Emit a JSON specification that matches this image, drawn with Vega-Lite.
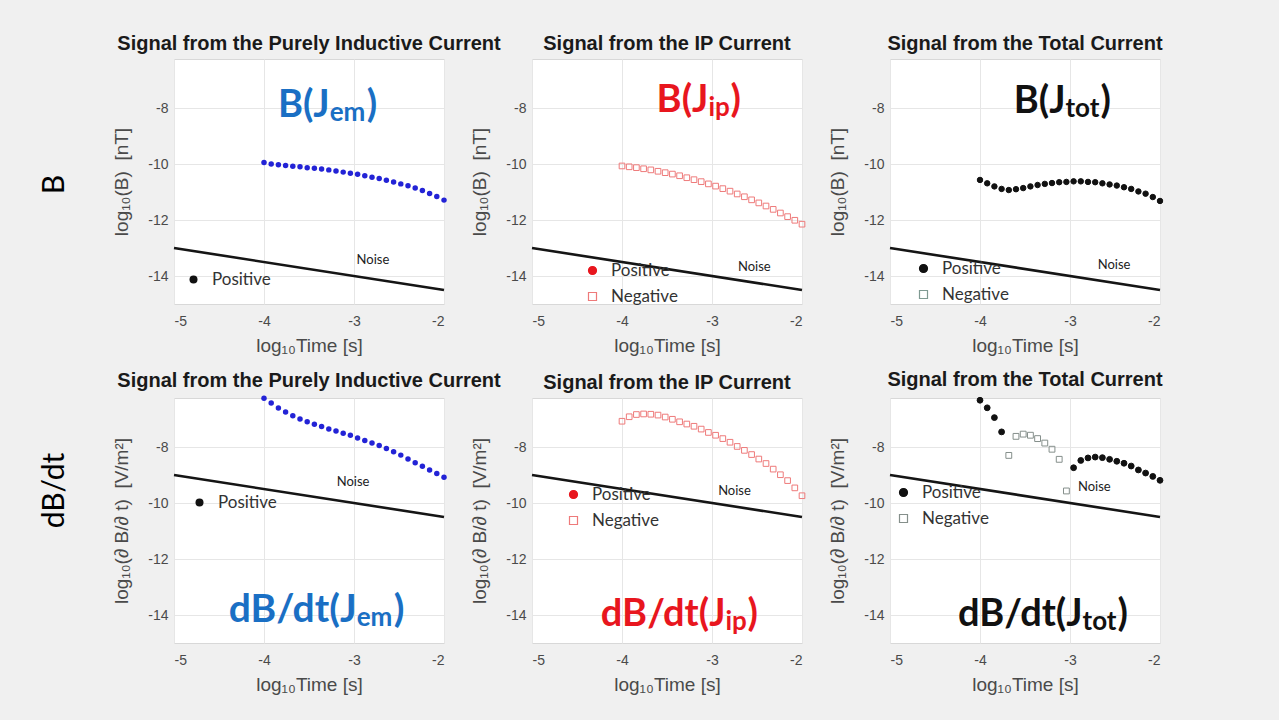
{
"$schema": "https://vega.github.io/schema/vega-lite/v6.json",
"background": "#f0f0f0",
"padding": {"left": 24, "top": 33, "right": 113, "bottom": 32},
"config": {
  "view": {"fill": "white", "stroke": "#d8d8d8"},
  "axis": {"labelFont": "Liberation Sans", "labelFontSize": 14, "labelColor": "#4a4a4a", "titleFont": "Liberation Sans", "titleFontSize": 19, "titleFontWeight": "normal", "titleColor": "#4a4a4a", "gridColor": "#e6e6e6", "domain": false, "ticks": false},
  "axisX": {"labelPadding": 10, "titlePadding": 8},
  "axisY": {"labelPadding": 6, "titlePadding": 16},
  "title": {"font": "Liberation Sans", "fontSize": 20, "fontWeight": "bold", "color": "#1a1a1a", "offset": 5, "anchor": "middle"},
  "legend": {"labelFont": "Lato", "labelFontSize": 17, "labelColor": "#333333", "symbolSize": 64, "rowPadding": 8, "labelOffset": 10, "symbolStrokeWidth": 1.2}
},
"datasets": {
  "noise_b": [{"t": -5, "v": -13}, {"t": -2, "v": -14.5}],
  "noise_d": [{"t": -5, "v": -9}, {"t": -2, "v": -10.5}],
  "bem": [
    {"t": -4, "v": -9.95, "sign": "Positive"}, {"t": -3.92, "v": -10.0, "sign": "Positive"}, {"t": -3.84, "v": -10.03, "sign": "Positive"}, {"t": -3.76, "v": -10.05, "sign": "Positive"}, {"t": -3.68, "v": -10.08, "sign": "Positive"}, {"t": -3.6, "v": -10.1, "sign": "Positive"}, {"t": -3.52, "v": -10.13, "sign": "Positive"}, {"t": -3.44, "v": -10.15, "sign": "Positive"}, {"t": -3.36, "v": -10.18, "sign": "Positive"}, {"t": -3.28, "v": -10.21, "sign": "Positive"}, {"t": -3.2, "v": -10.25, "sign": "Positive"}, {"t": -3.12, "v": -10.29, "sign": "Positive"}, {"t": -3.04, "v": -10.33, "sign": "Positive"}, {"t": -2.96, "v": -10.37, "sign": "Positive"}, {"t": -2.88, "v": -10.42, "sign": "Positive"}, {"t": -2.8, "v": -10.47, "sign": "Positive"}, {"t": -2.72, "v": -10.52, "sign": "Positive"}, {"t": -2.64, "v": -10.58, "sign": "Positive"}, {"t": -2.56, "v": -10.64, "sign": "Positive"}, {"t": -2.48, "v": -10.71, "sign": "Positive"}, {"t": -2.4, "v": -10.78, "sign": "Positive"}, {"t": -2.32, "v": -10.86, "sign": "Positive"}, {"t": -2.24, "v": -10.95, "sign": "Positive"}, {"t": -2.16, "v": -11.05, "sign": "Positive"}, {"t": -2.08, "v": -11.16, "sign": "Positive"}, {"t": -2.0, "v": -11.29, "sign": "Positive"}
  ],
  "bip": [
    {"t": -4, "v": -10.07, "sign": "Negative"}, {"t": -3.92, "v": -10.1, "sign": "Negative"}, {"t": -3.84, "v": -10.13, "sign": "Negative"}, {"t": -3.76, "v": -10.17, "sign": "Negative"}, {"t": -3.68, "v": -10.21, "sign": "Negative"}, {"t": -3.6, "v": -10.26, "sign": "Negative"}, {"t": -3.52, "v": -10.31, "sign": "Negative"}, {"t": -3.44, "v": -10.36, "sign": "Negative"}, {"t": -3.36, "v": -10.42, "sign": "Negative"}, {"t": -3.28, "v": -10.49, "sign": "Negative"}, {"t": -3.2, "v": -10.56, "sign": "Negative"}, {"t": -3.12, "v": -10.63, "sign": "Negative"}, {"t": -3.04, "v": -10.71, "sign": "Negative"}, {"t": -2.96, "v": -10.79, "sign": "Negative"}, {"t": -2.88, "v": -10.88, "sign": "Negative"}, {"t": -2.8, "v": -10.97, "sign": "Negative"}, {"t": -2.72, "v": -11.07, "sign": "Negative"}, {"t": -2.64, "v": -11.17, "sign": "Negative"}, {"t": -2.56, "v": -11.28, "sign": "Negative"}, {"t": -2.48, "v": -11.39, "sign": "Negative"}, {"t": -2.4, "v": -11.5, "sign": "Negative"}, {"t": -2.32, "v": -11.62, "sign": "Negative"}, {"t": -2.24, "v": -11.75, "sign": "Negative"}, {"t": -2.16, "v": -11.88, "sign": "Negative"}, {"t": -2.08, "v": -12.01, "sign": "Negative"}, {"t": -2.0, "v": -12.15, "sign": "Negative"}
  ],
  "btot": [
    {"t": -4, "v": -10.57, "sign": "Positive"}, {"t": -3.92, "v": -10.69, "sign": "Positive"}, {"t": -3.84, "v": -10.8, "sign": "Positive"}, {"t": -3.76, "v": -10.89, "sign": "Positive"}, {"t": -3.68, "v": -10.93, "sign": "Positive"}, {"t": -3.6, "v": -10.9, "sign": "Positive"}, {"t": -3.52, "v": -10.86, "sign": "Positive"}, {"t": -3.44, "v": -10.8, "sign": "Positive"}, {"t": -3.36, "v": -10.75, "sign": "Positive"}, {"t": -3.28, "v": -10.71, "sign": "Positive"}, {"t": -3.2, "v": -10.68, "sign": "Positive"}, {"t": -3.12, "v": -10.65, "sign": "Positive"}, {"t": -3.04, "v": -10.64, "sign": "Positive"}, {"t": -2.96, "v": -10.62, "sign": "Positive"}, {"t": -2.88, "v": -10.62, "sign": "Positive"}, {"t": -2.8, "v": -10.64, "sign": "Positive"}, {"t": -2.72, "v": -10.65, "sign": "Positive"}, {"t": -2.64, "v": -10.69, "sign": "Positive"}, {"t": -2.56, "v": -10.73, "sign": "Positive"}, {"t": -2.48, "v": -10.77, "sign": "Positive"}, {"t": -2.4, "v": -10.83, "sign": "Positive"}, {"t": -2.32, "v": -10.89, "sign": "Positive"}, {"t": -2.24, "v": -10.98, "sign": "Positive"}, {"t": -2.16, "v": -11.06, "sign": "Positive"}, {"t": -2.08, "v": -11.18, "sign": "Positive"}, {"t": -2.0, "v": -11.32, "sign": "Positive"}
  ],
  "dem": [
    {"t": -4, "v": -6.26, "sign": "Positive"}, {"t": -3.92, "v": -6.43, "sign": "Positive"}, {"t": -3.84, "v": -6.61, "sign": "Positive"}, {"t": -3.76, "v": -6.75, "sign": "Positive"}, {"t": -3.68, "v": -6.88, "sign": "Positive"}, {"t": -3.6, "v": -7.0, "sign": "Positive"}, {"t": -3.52, "v": -7.1, "sign": "Positive"}, {"t": -3.44, "v": -7.19, "sign": "Positive"}, {"t": -3.36, "v": -7.27, "sign": "Positive"}, {"t": -3.28, "v": -7.36, "sign": "Positive"}, {"t": -3.2, "v": -7.43, "sign": "Positive"}, {"t": -3.12, "v": -7.51, "sign": "Positive"}, {"t": -3.04, "v": -7.58, "sign": "Positive"}, {"t": -2.96, "v": -7.68, "sign": "Positive"}, {"t": -2.88, "v": -7.77, "sign": "Positive"}, {"t": -2.8, "v": -7.86, "sign": "Positive"}, {"t": -2.72, "v": -7.95, "sign": "Positive"}, {"t": -2.64, "v": -8.05, "sign": "Positive"}, {"t": -2.56, "v": -8.17, "sign": "Positive"}, {"t": -2.48, "v": -8.29, "sign": "Positive"}, {"t": -2.4, "v": -8.43, "sign": "Positive"}, {"t": -2.32, "v": -8.56, "sign": "Positive"}, {"t": -2.24, "v": -8.69, "sign": "Positive"}, {"t": -2.16, "v": -8.82, "sign": "Positive"}, {"t": -2.08, "v": -8.95, "sign": "Positive"}, {"t": -2.0, "v": -9.08, "sign": "Positive"}
  ],
  "dip": [
    {"t": -4, "v": -7.08, "sign": "Negative"}, {"t": -3.92, "v": -6.92, "sign": "Negative"}, {"t": -3.84, "v": -6.84, "sign": "Negative"}, {"t": -3.76, "v": -6.82, "sign": "Negative"}, {"t": -3.68, "v": -6.83, "sign": "Negative"}, {"t": -3.6, "v": -6.86, "sign": "Negative"}, {"t": -3.52, "v": -6.93, "sign": "Negative"}, {"t": -3.44, "v": -7.01, "sign": "Negative"}, {"t": -3.36, "v": -7.1, "sign": "Negative"}, {"t": -3.28, "v": -7.18, "sign": "Negative"}, {"t": -3.2, "v": -7.26, "sign": "Negative"}, {"t": -3.12, "v": -7.36, "sign": "Negative"}, {"t": -3.04, "v": -7.48, "sign": "Negative"}, {"t": -2.96, "v": -7.58, "sign": "Negative"}, {"t": -2.88, "v": -7.7, "sign": "Negative"}, {"t": -2.8, "v": -7.83, "sign": "Negative"}, {"t": -2.72, "v": -7.98, "sign": "Negative"}, {"t": -2.64, "v": -8.12, "sign": "Negative"}, {"t": -2.56, "v": -8.27, "sign": "Negative"}, {"t": -2.48, "v": -8.43, "sign": "Negative"}, {"t": -2.4, "v": -8.59, "sign": "Negative"}, {"t": -2.32, "v": -8.79, "sign": "Negative"}, {"t": -2.24, "v": -8.99, "sign": "Negative"}, {"t": -2.16, "v": -9.2, "sign": "Negative"}, {"t": -2.08, "v": -9.46, "sign": "Negative"}, {"t": -2.0, "v": -9.74, "sign": "Negative"}
  ],
  "dtot": [
    {"t": -4, "v": -6.33, "sign": "Positive"}, {"t": -3.92, "v": -6.6, "sign": "Positive"}, {"t": -3.84, "v": -6.95, "sign": "Positive"}, {"t": -3.76, "v": -7.46, "sign": "Positive"}, {"t": -3.68, "v": -8.3, "sign": "Negative"}, {"t": -3.6, "v": -7.62, "sign": "Negative"}, {"t": -3.52, "v": -7.54, "sign": "Negative"}, {"t": -3.44, "v": -7.58, "sign": "Negative"}, {"t": -3.36, "v": -7.7, "sign": "Negative"}, {"t": -3.28, "v": -7.86, "sign": "Negative"}, {"t": -3.2, "v": -8.08, "sign": "Negative"}, {"t": -3.12, "v": -8.44, "sign": "Negative"}, {"t": -3.04, "v": -9.57, "sign": "Negative"}, {"t": -2.96, "v": -8.74, "sign": "Positive"}, {"t": -2.88, "v": -8.48, "sign": "Positive"}, {"t": -2.8, "v": -8.39, "sign": "Positive"}, {"t": -2.72, "v": -8.36, "sign": "Positive"}, {"t": -2.64, "v": -8.38, "sign": "Positive"}, {"t": -2.56, "v": -8.44, "sign": "Positive"}, {"t": -2.48, "v": -8.51, "sign": "Positive"}, {"t": -2.4, "v": -8.58, "sign": "Positive"}, {"t": -2.32, "v": -8.68, "sign": "Positive"}, {"t": -2.24, "v": -8.82, "sign": "Positive"}, {"t": -2.16, "v": -8.93, "sign": "Positive"}, {"t": -2.08, "v": -9.05, "sign": "Positive"}, {"t": -2.0, "v": -9.19, "sign": "Positive"}
  ]
},
"spacing": 13,
"resolve": {"scale": {"x": "independent", "y": "independent", "shape": "independent", "fill": "independent", "stroke": "independent"}, "legend": {"shape": "independent", "fill": "independent", "stroke": "independent"}},
"vconcat": [
{
  "spacing": 88,
  "bounds": "flush",
  "resolve": {"scale": {"x": "independent", "y": "independent", "shape": "independent", "fill": "independent", "stroke": "independent"}, "legend": {"shape": "independent", "fill": "independent", "stroke": "independent"}},
  "hconcat": [
    {"width": 62, "height": 245, "view": {"fill": "#f0f0f0", "stroke": null}, "data": {"values": [{}]}, "mark": {"type": "text", "text": "B", "angle": 270, "dx": -3, "font": "Lato", "fontSize": 30, "color": "#000000"}, "encoding": {}},
    {
      "title": "Signal from the Purely Inductive Current",
      "width": 270, "height": 245,
      "layer": [
        {"data": {"name": "noise_b"}, "mark": {"type": "line", "color": "#151515", "strokeWidth": 2.6}, "encoding": {"x": {"field": "t", "type": "quantitative"}, "y": {"field": "v", "type": "quantitative"}}},
        {"data": {"values": [{}]}, "mark": {"type": "text", "text": "Noise", "font": "Lato", "fontSize": 13, "color": "#222222"}, "encoding": {"x": {"datum": -2.79}, "y": {"datum": -13.43}}},
        {"data": {"values": [{}]}, "mark": {"type": "text", "text": "B(J", "align": "right", "baseline": "alphabetic", "font": "Lato", "fontWeight": "bold", "fontSize": 38, "color": "#1a6fc4"}, "encoding": {"x": {"datum": -3.27}, "y": {"datum": -8.33}}},
        {"data": {"values": [{}]}, "mark": {"type": "text", "text": "em", "align": "left", "baseline": "alphabetic", "dy": 4, "font": "Lato", "fontWeight": "bold", "fontSize": 26, "color": "#1a6fc4"}, "encoding": {"x": {"datum": -3.27}, "y": {"datum": -8.33}}},
        {"data": {"values": [{}]}, "mark": {"type": "text", "text": ")", "align": "left", "baseline": "alphabetic", "dx": 37, "font": "Lato", "fontWeight": "bold", "fontSize": 38, "color": "#1a6fc4"}, "encoding": {"x": {"datum": -3.27}, "y": {"datum": -8.33}}},
        {"data": {"name": "bem"}, "mark": {"type": "point", "filled": true, "size": 6, "opacity": 1, "strokeWidth": 0},
         "encoding": {
          "x": {"field": "t", "type": "quantitative", "scale": {"domain": [-5, -2], "nice": false, "zero": false}, "axis": {"values": [-5, -4, -3, -2], "labelExpr": "'-' + abs(datum.value)", "title": "log₁₀Time [s]"}},
          "y": {"field": "v", "type": "quantitative", "scale": {"domain": [-15, -6.25], "nice": false, "zero": false}, "axis": {"values": [-14, -12, -10, -8], "labelExpr": "'-' + abs(datum.value)", "title": "log₁₀(B)\u00a0\u00a0[nT]"}},
          "shape": {"field": "sign", "type": "nominal", "scale": {"domain": ["Positive"], "range": ["circle"]}, "legend": {"title": null, "orient": "none", "legendX": 11, "legendY": 212, "direction": "vertical"}},
          "fill": {"field": "sign", "type": "nominal", "scale": {"domain": ["Positive"], "range": ["#111111"]}, "legend": {"title": null, "orient": "none", "legendX": 11, "legendY": 212, "direction": "vertical"}}
         }},
        {"data": {"name": "bem"}, "mark": {"type": "point", "filled": true, "shape": "circle", "size": 30, "opacity": 1, "color": "#2323d6"}, "encoding": {"x": {"field": "t", "type": "quantitative"}, "y": {"field": "v", "type": "quantitative"}}}
      ]
    },
    {
      "title": "Signal from the IP Current",
      "width": 270, "height": 245,
      "layer": [
        {"data": {"name": "noise_b"}, "mark": {"type": "line", "color": "#151515", "strokeWidth": 2.6}, "encoding": {"x": {"field": "t", "type": "quantitative"}, "y": {"field": "v", "type": "quantitative"}}},
        {"data": {"values": [{}]}, "mark": {"type": "text", "text": "Noise", "font": "Lato", "fontSize": 13, "color": "#222222"}, "encoding": {"x": {"datum": -2.53}, "y": {"datum": -13.67}}},
        {"data": {"values": [{}]}, "mark": {"type": "text", "text": "B(J", "align": "right", "baseline": "alphabetic", "font": "Lato", "fontWeight": "bold", "fontSize": 38, "color": "#e8161e"}, "encoding": {"x": {"datum": -3.04}, "y": {"datum": -8.13}}},
        {"data": {"values": [{}]}, "mark": {"type": "text", "text": "ip", "align": "left", "baseline": "alphabetic", "dy": 4, "font": "Lato", "fontWeight": "bold", "fontSize": 26, "color": "#e8161e"}, "encoding": {"x": {"datum": -3.04}, "y": {"datum": -8.13}}},
        {"data": {"values": [{}]}, "mark": {"type": "text", "text": ")", "align": "left", "baseline": "alphabetic", "dx": 22, "font": "Lato", "fontWeight": "bold", "fontSize": 38, "color": "#e8161e"}, "encoding": {"x": {"datum": -3.04}, "y": {"datum": -8.13}}},
        {"data": {"name": "bip"}, "mark": {"type": "point", "filled": true, "size": 32, "opacity": 1, "strokeWidth": 1},
         "encoding": {
          "x": {"field": "t", "type": "quantitative", "scale": {"domain": [-5, -2], "nice": false, "zero": false}, "axis": {"values": [-5, -4, -3, -2], "labelExpr": "'-' + abs(datum.value)", "title": "log₁₀Time [s]"}},
          "y": {"field": "v", "type": "quantitative", "scale": {"domain": [-15, -6.25], "nice": false, "zero": false}, "axis": {"values": [-14, -12, -10, -8], "labelExpr": "'-' + abs(datum.value)", "title": "log₁₀(B)\u00a0\u00a0[nT]"}},
          "shape": {"field": "sign", "type": "nominal", "scale": {"domain": ["Positive", "Negative"], "range": ["circle", "square"]}, "legend": {"title": null, "orient": "none", "legendX": 52, "legendY": 203, "direction": "vertical"}},
          "fill": {"field": "sign", "type": "nominal", "scale": {"domain": ["Positive", "Negative"], "range": ["#e8161e", "transparent"]}, "legend": {"title": null, "orient": "none", "legendX": 52, "legendY": 203, "direction": "vertical"}},
          "stroke": {"field": "sign", "type": "nominal", "scale": {"domain": ["Positive", "Negative"], "range": ["#e8161e", "#ee7a7a"]}, "legend": {"title": null, "orient": "none", "legendX": 52, "legendY": 203, "direction": "vertical"}}
         }}
      ]
    },
    {
      "title": "Signal from the Total Current",
      "width": 270, "height": 245,
      "layer": [
        {"data": {"name": "noise_b"}, "mark": {"type": "line", "color": "#151515", "strokeWidth": 2.6}, "encoding": {"x": {"field": "t", "type": "quantitative"}, "y": {"field": "v", "type": "quantitative"}}},
        {"data": {"values": [{}]}, "mark": {"type": "text", "text": "Noise", "font": "Lato", "fontSize": 13, "color": "#222222"}, "encoding": {"x": {"datum": -2.51}, "y": {"datum": -13.62}}},
        {"data": {"values": [{}]}, "mark": {"type": "text", "text": "B(J", "align": "right", "baseline": "alphabetic", "font": "Lato", "fontWeight": "bold", "fontSize": 38, "color": "#111111"}, "encoding": {"x": {"datum": -3.05}, "y": {"datum": -8.19}}},
        {"data": {"values": [{}]}, "mark": {"type": "text", "text": "tot", "align": "left", "baseline": "alphabetic", "dy": 4, "font": "Lato", "fontWeight": "bold", "fontSize": 26, "color": "#111111"}, "encoding": {"x": {"datum": -3.05}, "y": {"datum": -8.19}}},
        {"data": {"values": [{}]}, "mark": {"type": "text", "text": ")", "align": "left", "baseline": "alphabetic", "dx": 35, "font": "Lato", "fontWeight": "bold", "fontSize": 38, "color": "#111111"}, "encoding": {"x": {"datum": -3.05}, "y": {"datum": -8.19}}},
        {"data": {"name": "btot"}, "mark": {"type": "point", "filled": true, "size": 30, "opacity": 1, "strokeWidth": 1},
         "encoding": {
          "x": {"field": "t", "type": "quantitative", "scale": {"domain": [-5, -2], "nice": false, "zero": false}, "axis": {"values": [-5, -4, -3, -2], "labelExpr": "'-' + abs(datum.value)", "title": "log₁₀Time [s]"}},
          "y": {"field": "v", "type": "quantitative", "scale": {"domain": [-15, -6.25], "nice": false, "zero": false}, "axis": {"values": [-14, -12, -10, -8], "labelExpr": "'-' + abs(datum.value)", "title": "log₁₀(B)\u00a0\u00a0[nT]"}},
          "shape": {"field": "sign", "type": "nominal", "scale": {"domain": ["Positive", "Negative"], "range": ["circle", "square"]}, "legend": {"title": null, "orient": "none", "legendX": 25, "legendY": 201, "direction": "vertical"}},
          "fill": {"field": "sign", "type": "nominal", "scale": {"domain": ["Positive", "Negative"], "range": ["#111111", "transparent"]}, "legend": {"title": null, "orient": "none", "legendX": 25, "legendY": 201, "direction": "vertical"}},
          "stroke": {"field": "sign", "type": "nominal", "scale": {"domain": ["Positive", "Negative"], "range": ["#111111", "#7f9a92"]}, "legend": {"title": null, "orient": "none", "legendX": 25, "legendY": 201, "direction": "vertical"}}
         }}
      ]
    }
  ]
},
{
  "spacing": 88,
  "bounds": "flush",
  "resolve": {"scale": {"x": "independent", "y": "independent", "shape": "independent", "fill": "independent", "stroke": "independent"}, "legend": {"shape": "independent", "fill": "independent", "stroke": "independent"}},
  "hconcat": [
    {"width": 62, "height": 245, "view": {"fill": "#f0f0f0", "stroke": null}, "data": {"values": [{}]}, "mark": {"type": "text", "text": "dB/dt", "angle": 270, "dx": 30, "font": "Lato", "fontSize": 30, "color": "#000000"}, "encoding": {}},
    {
      "title": "Signal from the Purely Inductive Current",
      "width": 270, "height": 245,
      "layer": [
        {"data": {"name": "noise_d"}, "mark": {"type": "line", "color": "#151515", "strokeWidth": 2.6}, "encoding": {"x": {"field": "t", "type": "quantitative"}, "y": {"field": "v", "type": "quantitative"}}},
        {"data": {"values": [{}]}, "mark": {"type": "text", "text": "Noise", "font": "Lato", "fontSize": 13, "color": "#222222"}, "encoding": {"x": {"datum": -3.01}, "y": {"datum": -9.26}}},
        {"data": {"values": [{}]}, "mark": {"type": "text", "text": "dB/dt(J", "align": "right", "baseline": "alphabetic", "font": "Lato", "fontWeight": "bold", "fontSize": 39, "color": "#1a6fc4"}, "encoding": {"x": {"datum": -2.97}, "y": {"datum": -14.26}}},
        {"data": {"values": [{}]}, "mark": {"type": "text", "text": "em", "align": "left", "baseline": "alphabetic", "dy": 4, "font": "Lato", "fontWeight": "bold", "fontSize": 26, "color": "#1a6fc4"}, "encoding": {"x": {"datum": -2.97}, "y": {"datum": -14.26}}},
        {"data": {"values": [{}]}, "mark": {"type": "text", "text": ")", "align": "left", "baseline": "alphabetic", "dx": 37, "font": "Lato", "fontWeight": "bold", "fontSize": 39, "color": "#1a6fc4"}, "encoding": {"x": {"datum": -2.97}, "y": {"datum": -14.26}}},
        {"data": {"name": "dem"}, "mark": {"type": "point", "filled": true, "size": 6, "opacity": 1, "strokeWidth": 0},
         "encoding": {
          "x": {"field": "t", "type": "quantitative", "scale": {"domain": [-5, -2], "nice": false, "zero": false}, "axis": {"values": [-5, -4, -3, -2], "labelExpr": "'-' + abs(datum.value)", "title": "log₁₀Time [s]"}},
          "y": {"field": "v", "type": "quantitative", "scale": {"domain": [-15, -6.25], "nice": false, "zero": false}, "axis": {"values": [-14, -12, -10, -8], "labelExpr": "'-' + abs(datum.value)", "title": "log₁₀(∂\u00a0B/∂\u00a0t)\u00a0\u00a0[V/m²]"}},
          "shape": {"field": "sign", "type": "nominal", "scale": {"domain": ["Positive"], "range": ["circle"]}, "legend": {"title": null, "orient": "none", "legendX": 17, "legendY": 96, "direction": "vertical"}},
          "fill": {"field": "sign", "type": "nominal", "scale": {"domain": ["Positive"], "range": ["#111111"]}, "legend": {"title": null, "orient": "none", "legendX": 17, "legendY": 96, "direction": "vertical"}}
         }},
        {"data": {"name": "dem"}, "mark": {"type": "point", "filled": true, "shape": "circle", "size": 30, "opacity": 1, "color": "#2323d6"}, "encoding": {"x": {"field": "t", "type": "quantitative"}, "y": {"field": "v", "type": "quantitative"}}}
      ]
    },
    {
      "title": "Signal from the IP Current",
      "width": 270, "height": 245,
      "layer": [
        {"data": {"name": "noise_d"}, "mark": {"type": "line", "color": "#151515", "strokeWidth": 2.6}, "encoding": {"x": {"field": "t", "type": "quantitative"}, "y": {"field": "v", "type": "quantitative"}}},
        {"data": {"values": [{}]}, "mark": {"type": "text", "text": "Noise", "font": "Lato", "fontSize": 13, "color": "#222222"}, "encoding": {"x": {"datum": -2.75}, "y": {"datum": -9.56}}},
        {"data": {"values": [{}]}, "mark": {"type": "text", "text": "dB/dt(J", "align": "right", "baseline": "alphabetic", "font": "Lato", "fontWeight": "bold", "fontSize": 38, "color": "#e8161e"}, "encoding": {"x": {"datum": -2.85}, "y": {"datum": -14.38}}},
        {"data": {"values": [{}]}, "mark": {"type": "text", "text": "ip", "align": "left", "baseline": "alphabetic", "dy": 4, "font": "Lato", "fontWeight": "bold", "fontSize": 26, "color": "#e8161e"}, "encoding": {"x": {"datum": -2.85}, "y": {"datum": -14.38}}},
        {"data": {"values": [{}]}, "mark": {"type": "text", "text": ")", "align": "left", "baseline": "alphabetic", "dx": 22, "font": "Lato", "fontWeight": "bold", "fontSize": 38, "color": "#e8161e"}, "encoding": {"x": {"datum": -2.85}, "y": {"datum": -14.38}}},
        {"data": {"name": "dip"}, "mark": {"type": "point", "filled": true, "size": 32, "opacity": 1, "strokeWidth": 1},
         "encoding": {
          "x": {"field": "t", "type": "quantitative", "scale": {"domain": [-5, -2], "nice": false, "zero": false}, "axis": {"values": [-5, -4, -3, -2], "labelExpr": "'-' + abs(datum.value)", "title": "log₁₀Time [s]"}},
          "y": {"field": "v", "type": "quantitative", "scale": {"domain": [-15, -6.25], "nice": false, "zero": false}, "axis": {"values": [-14, -12, -10, -8], "labelExpr": "'-' + abs(datum.value)", "title": "log₁₀(∂\u00a0B/∂\u00a0t)\u00a0\u00a0[V/m²]"}},
          "shape": {"field": "sign", "type": "nominal", "scale": {"domain": ["Positive", "Negative"], "range": ["circle", "square"]}, "legend": {"title": null, "orient": "none", "legendX": 33, "legendY": 88, "direction": "vertical"}},
          "fill": {"field": "sign", "type": "nominal", "scale": {"domain": ["Positive", "Negative"], "range": ["#e8161e", "transparent"]}, "legend": {"title": null, "orient": "none", "legendX": 33, "legendY": 88, "direction": "vertical"}},
          "stroke": {"field": "sign", "type": "nominal", "scale": {"domain": ["Positive", "Negative"], "range": ["#e8161e", "#ee7a7a"]}, "legend": {"title": null, "orient": "none", "legendX": 33, "legendY": 88, "direction": "vertical"}}
         }}
      ]
    },
    {
      "title": "Signal from the Total Current",
      "width": 270, "height": 245,
      "layer": [
        {"data": {"name": "noise_d"}, "mark": {"type": "line", "color": "#151515", "strokeWidth": 2.6}, "encoding": {"x": {"field": "t", "type": "quantitative"}, "y": {"field": "v", "type": "quantitative"}}},
        {"data": {"values": [{}]}, "mark": {"type": "text", "text": "Noise", "font": "Lato", "fontSize": 13, "color": "#222222"}, "encoding": {"x": {"datum": -2.73}, "y": {"datum": -9.44}}},
        {"data": {"values": [{}]}, "mark": {"type": "text", "text": "dB/dt(J", "align": "right", "baseline": "alphabetic", "font": "Lato", "fontWeight": "bold", "fontSize": 38, "color": "#111111"}, "encoding": {"x": {"datum": -2.86}, "y": {"datum": -14.38}}},
        {"data": {"values": [{}]}, "mark": {"type": "text", "text": "tot", "align": "left", "baseline": "alphabetic", "dy": 4, "font": "Lato", "fontWeight": "bold", "fontSize": 26, "color": "#111111"}, "encoding": {"x": {"datum": -2.86}, "y": {"datum": -14.38}}},
        {"data": {"values": [{}]}, "mark": {"type": "text", "text": ")", "align": "left", "baseline": "alphabetic", "dx": 35, "font": "Lato", "fontWeight": "bold", "fontSize": 38, "color": "#111111"}, "encoding": {"x": {"datum": -2.86}, "y": {"datum": -14.38}}},
        {"data": {"name": "dtot"}, "mark": {"type": "point", "filled": true, "size": 34, "opacity": 1, "strokeWidth": 1},
         "encoding": {
          "x": {"field": "t", "type": "quantitative", "scale": {"domain": [-5, -2], "nice": false, "zero": false}, "axis": {"values": [-5, -4, -3, -2], "labelExpr": "'-' + abs(datum.value)", "title": "log₁₀Time [s]"}},
          "y": {"field": "v", "type": "quantitative", "scale": {"domain": [-15, -6.25], "nice": false, "zero": false}, "axis": {"values": [-14, -12, -10, -8], "labelExpr": "'-' + abs(datum.value)", "title": "log₁₀(∂\u00a0B/∂\u00a0t)\u00a0\u00a0[V/m²]"}},
          "shape": {"field": "sign", "type": "nominal", "scale": {"domain": ["Positive", "Negative"], "range": ["circle", "square"]}, "legend": {"title": null, "orient": "none", "legendX": 5, "legendY": 86, "direction": "vertical"}},
          "fill": {"field": "sign", "type": "nominal", "scale": {"domain": ["Positive", "Negative"], "range": ["#111111", "transparent"]}, "legend": {"title": null, "orient": "none", "legendX": 5, "legendY": 86, "direction": "vertical"}},
          "stroke": {"field": "sign", "type": "nominal", "scale": {"domain": ["Positive", "Negative"], "range": ["#111111", "#858f8b"]}, "legend": {"title": null, "orient": "none", "legendX": 5, "legendY": 86, "direction": "vertical"}}
         }}
      ]
    }
  ]
}
]
}
